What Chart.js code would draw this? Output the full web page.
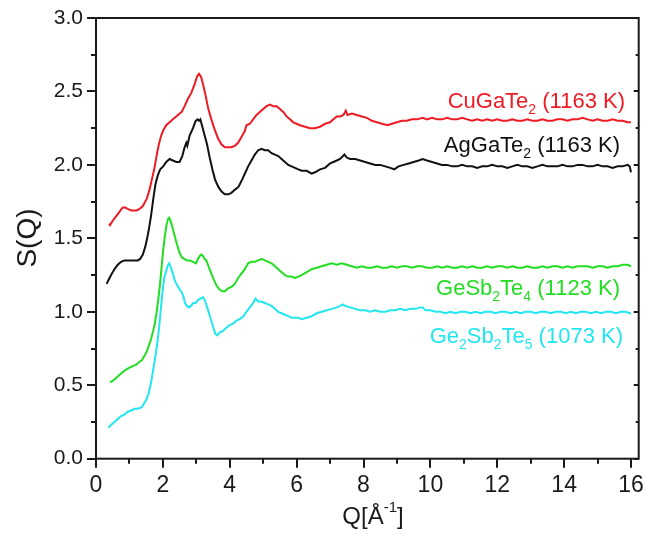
<!DOCTYPE html>
<html>
<head>
<meta charset="utf-8">
<script src="https://cdn.jsdelivr.net/npm/chart.js@4.4.1/dist/chart.umd.min.js"></script>
<style>
  html, body { margin: 0; padding: 0; background: #fff; }
  canvas { display: block; }
</style>
</head>
<body>
<canvas id="sq-chart" width="646" height="538"></canvas>
<script>
// S(Q) curves, as [Q, S(Q)] pairs
const cuGaTe2 = [[0.39,1.60],[0.42,1.59],[0.5,1.62],[0.6,1.65],[0.7,1.68],[0.8,1.71],[0.87,1.71],[0.95,1.70],[1.05,1.69],[1.15,1.69],[1.22,1.69],[1.3,1.70],[1.4,1.72],[1.52,1.77],[1.6,1.83],[1.68,1.91],[1.75,1.98],[1.81,2.06],[1.88,2.14],[1.95,2.20],[2.02,2.24],[2.1,2.27],[2.2,2.29],[2.3,2.31],[2.4,2.33],[2.5,2.35],[2.56,2.36],[2.65,2.40],[2.75,2.45],[2.85,2.49],[2.95,2.55],[3.02,2.60],[3.08,2.62],[3.14,2.60],[3.2,2.55],[3.28,2.47],[3.36,2.38],[3.45,2.31],[3.55,2.24],[3.65,2.18],[3.75,2.14],[3.85,2.12],[3.95,2.12],[4.05,2.12],[4.15,2.13],[4.25,2.15],[4.35,2.19],[4.45,2.23],[4.5,2.27],[4.6,2.28],[4.7,2.31],[4.8,2.34],[4.9,2.36],[5.0,2.38],[5.1,2.40],[5.2,2.41],[5.3,2.40],[5.4,2.40],[5.5,2.38],[5.6,2.36],[5.7,2.33],[5.8,2.31],[5.9,2.29],[6.0,2.28],[6.1,2.27],[6.25,2.26],[6.4,2.25],[6.55,2.25],[6.7,2.26],[6.85,2.28],[7.0,2.29],[7.1,2.31],[7.2,2.33],[7.3,2.33],[7.4,2.34],[7.47,2.37],[7.52,2.34],[7.65,2.35],[7.8,2.34],[7.95,2.33],[8.1,2.32],[8.25,2.30],[8.4,2.29],[8.55,2.28],[8.72,2.27],[8.85,2.28],[9.0,2.29],[9.15,2.30],[9.3,2.30],[9.45,2.31],[9.6,2.31],[9.77,2.32],[9.9,2.31],[10.05,2.32],[10.2,2.31],[10.35,2.31],[10.5,2.32],[10.65,2.31],[10.8,2.31],[10.95,2.32],[11.1,2.31],[11.25,2.30],[11.4,2.31],[11.55,2.30],[11.7,2.31],[11.85,2.30],[12.0,2.31],[12.15,2.30],[12.3,2.30],[12.45,2.31],[12.6,2.30],[12.75,2.30],[12.9,2.31],[13.05,2.30],[13.2,2.30],[13.35,2.31],[13.5,2.30],[13.65,2.30],[13.8,2.31],[13.95,2.31],[14.1,2.30],[14.25,2.31],[14.4,2.31],[14.55,2.32],[14.7,2.31],[14.85,2.30],[15.0,2.31],[15.15,2.30],[15.3,2.30],[15.45,2.31],[15.6,2.30],[15.75,2.30],[15.9,2.29],[16.0,2.29]];

const agGaTe2 = [[0.32,1.19],[0.36,1.21],[0.45,1.25],[0.55,1.29],[0.65,1.32],[0.75,1.34],[0.85,1.35],[0.95,1.35],[1.05,1.35],[1.15,1.35],[1.25,1.35],[1.32,1.36],[1.4,1.39],[1.47,1.44],[1.52,1.49],[1.58,1.56],[1.65,1.66],[1.72,1.78],[1.78,1.87],[1.85,1.93],[1.92,1.97],[2.01,1.99],[2.1,2.02],[2.2,2.04],[2.3,2.03],[2.4,2.02],[2.5,2.02],[2.58,2.06],[2.65,2.12],[2.7,2.15],[2.73,2.13],[2.8,2.20],[2.9,2.25],[2.98,2.30],[3.04,2.31],[3.08,2.30],[3.12,2.31],[3.18,2.26],[3.25,2.20],[3.32,2.14],[3.4,2.05],[3.48,1.97],[3.56,1.90],[3.66,1.85],[3.75,1.82],[3.85,1.80],[3.96,1.80],[4.05,1.81],[4.15,1.83],[4.26,1.85],[4.35,1.89],[4.45,1.94],[4.55,1.99],[4.65,2.03],[4.75,2.07],[4.85,2.10],[4.95,2.11],[5.05,2.10],[5.15,2.10],[5.25,2.08],[5.35,2.07],[5.45,2.06],[5.55,2.04],[5.65,2.02],[5.75,2.00],[5.85,1.99],[5.95,1.98],[6.05,1.97],[6.15,1.96],[6.3,1.96],[6.45,1.94],[6.55,1.95],[6.7,1.97],[6.85,1.98],[7.0,2.01],[7.1,2.02],[7.2,2.03],[7.3,2.04],[7.43,2.07],[7.5,2.05],[7.6,2.04],[7.75,2.04],[7.9,2.03],[8.05,2.02],[8.2,2.01],[8.35,2.00],[8.5,2.00],[8.65,1.99],[8.8,1.98],[8.92,1.97],[9.05,1.99],[9.2,2.00],[9.35,2.01],[9.5,2.02],[9.65,2.03],[9.77,2.04],[9.9,2.03],[10.05,2.02],[10.2,2.01],[10.35,2.00],[10.5,2.00],[10.65,1.99],[10.8,1.99],[10.95,2.00],[11.1,1.99],[11.25,1.99],[11.4,1.98],[11.55,1.99],[11.7,1.99],[11.85,2.00],[12.0,1.99],[12.15,1.99],[12.3,1.98],[12.45,1.99],[12.6,2.00],[12.75,1.99],[12.9,1.99],[13.05,1.98],[13.2,1.99],[13.35,2.00],[13.5,1.99],[13.65,1.99],[13.8,1.99],[13.95,2.00],[14.1,1.99],[14.25,1.99],[14.4,2.00],[14.55,2.00],[14.7,1.99],[14.85,1.99],[15.0,2.00],[15.15,1.99],[15.3,1.99],[15.45,1.98],[15.6,1.99],[15.75,1.99],[15.9,2.00],[15.96,1.99],[16.0,1.95]];

const geSb2Te4 = [[0.42,0.52],[0.5,0.53],[0.6,0.55],[0.7,0.57],[0.8,0.59],[0.92,0.61],[1.0,0.62],[1.1,0.63],[1.2,0.64],[1.3,0.66],[1.37,0.67],[1.45,0.70],[1.52,0.73],[1.58,0.77],[1.64,0.81],[1.7,0.86],[1.76,0.92],[1.82,1.01],[1.87,1.10],[1.91,1.18],[1.96,1.30],[2.0,1.40],[2.05,1.50],[2.1,1.58],[2.15,1.63],[2.19,1.64],[2.23,1.62],[2.28,1.58],[2.35,1.52],[2.42,1.46],[2.5,1.40],[2.57,1.37],[2.64,1.36],[2.72,1.35],[2.8,1.35],[2.9,1.34],[2.99,1.33],[3.05,1.36],[3.1,1.38],[3.15,1.39],[3.2,1.38],[3.25,1.36],[3.3,1.35],[3.38,1.30],[3.45,1.26],[3.52,1.22],[3.6,1.18],[3.7,1.15],[3.78,1.14],[3.86,1.14],[3.95,1.16],[4.05,1.17],[4.15,1.19],[4.25,1.23],[4.35,1.26],[4.45,1.29],[4.55,1.33],[4.65,1.34],[4.75,1.34],[4.85,1.35],[4.96,1.36],[5.05,1.35],[5.15,1.34],[5.25,1.33],[5.35,1.31],[5.45,1.29],[5.55,1.27],[5.65,1.25],[5.75,1.24],[5.85,1.24],[5.95,1.23],[6.05,1.24],[6.15,1.25],[6.3,1.27],[6.45,1.29],[6.6,1.30],[6.75,1.31],[6.9,1.32],[7.05,1.33],[7.2,1.32],[7.35,1.33],[7.5,1.32],[7.65,1.31],[7.8,1.30],[7.95,1.31],[8.1,1.30],[8.25,1.30],[8.4,1.31],[8.55,1.30],[8.7,1.30],[8.85,1.31],[9.0,1.30],[9.15,1.31],[9.3,1.31],[9.45,1.30],[9.6,1.31],[9.75,1.31],[9.9,1.30],[10.05,1.30],[10.2,1.31],[10.35,1.30],[10.5,1.31],[10.65,1.30],[10.8,1.30],[10.95,1.31],[11.1,1.30],[11.25,1.31],[11.4,1.30],[11.55,1.30],[11.7,1.31],[11.85,1.30],[12.0,1.31],[12.15,1.31],[12.3,1.30],[12.45,1.31],[12.6,1.30],[12.75,1.30],[12.9,1.31],[13.05,1.30],[13.2,1.30],[13.35,1.31],[13.5,1.30],[13.65,1.31],[13.8,1.31],[13.95,1.30],[14.1,1.31],[14.25,1.30],[14.4,1.31],[14.55,1.31],[14.7,1.31],[14.85,1.30],[15.0,1.31],[15.15,1.31],[15.3,1.30],[15.45,1.31],[15.6,1.31],[15.75,1.32],[15.9,1.32],[16.0,1.31]];

const ge2Sb2Te5 = [[0.37,0.21],[0.45,0.23],[0.55,0.25],[0.65,0.27],[0.75,0.29],[0.85,0.30],[0.95,0.32],[1.07,0.33],[1.15,0.34],[1.25,0.34],[1.37,0.35],[1.45,0.38],[1.52,0.41],[1.57,0.44],[1.62,0.49],[1.67,0.55],[1.72,0.62],[1.78,0.70],[1.84,0.80],[1.89,0.90],[1.94,1.02],[1.99,1.14],[2.04,1.23],[2.09,1.27],[2.14,1.31],[2.19,1.33],[2.24,1.30],[2.3,1.26],[2.36,1.21],[2.43,1.18],[2.51,1.15],[2.57,1.13],[2.62,1.10],[2.66,1.06],[2.72,1.04],[2.78,1.03],[2.84,1.04],[2.91,1.06],[2.98,1.06],[3.05,1.08],[3.12,1.09],[3.2,1.10],[3.27,1.07],[3.34,1.02],[3.42,0.96],[3.5,0.90],[3.57,0.85],[3.63,0.84],[3.7,0.86],[3.8,0.87],[3.89,0.89],[4.0,0.91],[4.1,0.92],[4.2,0.94],[4.3,0.95],[4.41,0.97],[4.5,1.00],[4.6,1.03],[4.7,1.06],[4.77,1.09],[4.85,1.07],[4.95,1.07],[5.05,1.06],[5.15,1.05],[5.25,1.04],[5.35,1.02],[5.45,1.00],[5.55,0.99],[5.65,0.98],[5.75,0.97],[5.85,0.96],[5.95,0.96],[6.05,0.96],[6.15,0.95],[6.3,0.96],[6.45,0.97],[6.6,0.99],[6.75,1.00],[6.9,1.01],[7.05,1.02],[7.2,1.03],[7.3,1.04],[7.38,1.05],[7.45,1.04],[7.6,1.03],[7.75,1.02],[7.9,1.01],[8.05,1.01],[8.2,1.00],[8.35,1.01],[8.5,1.00],[8.65,1.00],[8.8,1.01],[8.95,1.01],[9.1,1.02],[9.25,1.01],[9.4,1.02],[9.55,1.02],[9.7,1.03],[9.77,1.03],[9.85,1.01],[10.0,1.01],[10.15,1.00],[10.3,1.00],[10.45,0.99],[10.6,1.00],[10.75,0.99],[10.9,1.00],[11.05,1.00],[11.2,0.99],[11.35,1.00],[11.5,0.99],[11.65,1.00],[11.8,1.00],[11.95,0.99],[12.1,1.00],[12.25,1.00],[12.4,0.99],[12.55,1.00],[12.7,0.99],[12.85,1.00],[13.0,1.00],[13.15,0.99],[13.3,1.00],[13.45,1.00],[13.6,0.99],[13.75,1.00],[13.9,1.00],[14.05,0.99],[14.2,1.00],[14.35,0.99],[14.5,1.00],[14.65,1.00],[14.8,0.99],[14.95,1.00],[15.1,0.99],[15.25,1.00],[15.4,1.00],[15.55,0.99],[15.7,1.00],[15.85,1.00],[15.95,0.99],[16.0,0.99]];

const xTicks = [0,2,4,6,8,10,12,14,16];
const yTicks = [0.0,0.5,1.0,1.5,2.0,2.5,3.0];

const seriesColors = ['#ee1b24', '#111111', '#22dd22', '#22e6f0'];

// labels with subscripts: [text, isSub]
const seriesLabels = [
    [['CuGaTe', false], ['2', true], [' (1163 K)', false]],
    [['AgGaTe', false], ['2', true], [' (1163 K)', false]],
    [['GeSb', false], ['2', true], ['Te', false], ['4', true], [' (1123 K)', false]],
    [['Ge', false], ['2', true], ['Sb', false], ['2', true], ['Te', false], ['5', true], [' (1073 K)', false]]
];
const labelAnchors = [[625, 108], [620, 152], [620, 295], [623, 343]];

function toPoints(pairs) {
    return pairs.map(p => ({ x: p[0], y: p[1] }));
}

const FONT = '"Liberation Sans", Arial, sans-serif';

function drawRich(ctx, parts, rightX, baseY, size) {
    const subSize = Math.round(size * 0.62);
    let total = 0;
    parts.forEach(([t, sub]) => {
        ctx.font = (sub ? subSize : size) + 'px ' + FONT;
        total += ctx.measureText(t).width;
    });
    let x = rightX - total;
    parts.forEach(([t, sub]) => {
        ctx.font = (sub ? subSize : size) + 'px ' + FONT;
        ctx.fillText(t, x, sub ? baseY + 6 : baseY);
        x += ctx.measureText(t).width;
    });
}

const framePlugin = {
    id: 'frame',
    afterDraw(chart) {
        const { ctx, chartArea: a, scales: { x, y } } = chart;
        ctx.save();
        ctx.strokeStyle = '#1a1a1a';
        ctx.lineWidth = 2;
        ctx.strokeRect(a.left, a.top, a.right - a.left, a.bottom - a.top);

        ctx.beginPath();
        // bottom ticks, outward
        for (let q = 0; q <= 16; q += 1) {
            const px = Math.round(x.getPixelForValue(q));
            const len = q % 2 === 0 ? 9 : 5;
            ctx.moveTo(px, a.bottom);
            ctx.lineTo(px, a.bottom + len);
        }
        // left ticks outward, right ticks inward
        for (let k = 0; k <= 12; k++) {
            const v = k * 0.25;
            const py = Math.round(y.getPixelForValue(v));
            const major = k % 2 === 0;
            ctx.moveTo(a.left, py);
            ctx.lineTo(a.left - (major ? 9 : 5), py);
            ctx.moveTo(a.right, py);
            ctx.lineTo(a.right - (major ? 5 : 3), py);
        }
        ctx.stroke();

        // series labels
        ctx.textAlign = 'left';
        ctx.textBaseline = 'alphabetic';
        seriesLabels.forEach((parts, i) => {
            ctx.fillStyle = seriesColors[i];
            drawRich(ctx, parts, labelAnchors[i][0], labelAnchors[i][1], 22);
        });

        // axis titles
        ctx.fillStyle = '#1a1a1a';
        ctx.save();
        ctx.translate(36, 238);
        ctx.rotate(-Math.PI / 2);
        ctx.textAlign = 'center';
        ctx.font = '28px ' + FONT;
        ctx.fillText('S(Q)', 0, 0);
        ctx.restore();

        ctx.font = '24px ' + FONT;
        const w1 = ctx.measureText('Q[Å').width;
        ctx.font = '15px ' + FONT;
        const w2 = ctx.measureText('-1').width;
        ctx.font = '24px ' + FONT;
        const w3 = ctx.measureText(']').width;
        let tx = 373 - (w1 + w2 + w3) / 2;
        ctx.fillText('Q[Å', tx, 524);
        tx += w1;
        ctx.font = '15px ' + FONT;
        ctx.fillText('-1', tx, 512);
        tx += w2;
        ctx.font = '24px ' + FONT;
        ctx.fillText(']', tx, 524);
        ctx.restore();
    }
};

const ctx = document.getElementById('sq-chart').getContext('2d');
new Chart(ctx, {
    type: 'line',
    data: {
        datasets: [
            { data: toPoints(cuGaTe2), borderColor: seriesColors[0] },
            { data: toPoints(agGaTe2), borderColor: seriesColors[1] },
            { data: toPoints(geSb2Te4), borderColor: seriesColors[2] },
            { data: toPoints(ge2Sb2Te5), borderColor: seriesColors[3] }
        ].map(d => Object.assign(d, { borderWidth: 2, pointRadius: 0, tension: 0, fill: false }))
    },
    options: {
        responsive: false,
        animation: false,
        devicePixelRatio: 1,
        layout: { padding: { left: 0, top: 18, right: 7.3, bottom: 0 } },
        plugins: { legend: { display: false }, tooltip: { enabled: false } },
        scales: {
            x: {
                type: 'linear',
                min: 0,
                max: 16.23,
                afterBuildTicks: s => { s.ticks = xTicks.map(v => ({ value: v })); },
                afterFit: s => { s.height = 79.3; s.paddingLeft = 0; s.paddingRight = 0; },
                grid: { color: 'transparent', drawOnChartArea: false, tickLength: 9 },
                border: { display: false },
                ticks: { color: '#1a1a1a', font: { size: 23, family: FONT }, padding: 4, maxRotation: 0, autoSkip: false }
            },
            y: {
                type: 'linear',
                min: 0,
                max: 3,
                afterBuildTicks: s => { s.ticks = yTicks.map(v => ({ value: v })); },
                afterFit: s => { s.width = 96; s.paddingTop = 0; s.paddingBottom = 0; },
                grid: { color: 'transparent', drawOnChartArea: false, tickLength: 9 },
                border: { display: false },
                ticks: { color: '#1a1a1a', font: { size: 21, family: FONT }, padding: 4, autoSkip: false,
                    callback: v => v.toFixed(1) }
            }
        }
    },
    plugins: [framePlugin]
});
</script>
</body>
</html>
